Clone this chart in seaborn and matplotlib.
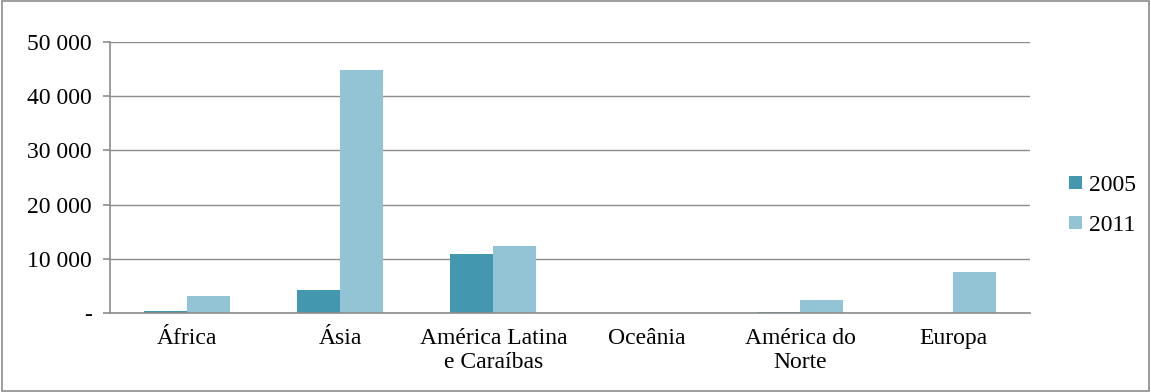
import pandas as pd
import seaborn as sns
import matplotlib.pyplot as plt
from matplotlib.ticker import FuncFormatter, FixedLocator

regions = ['África', 'Ásia', 'América Latina\ne Caraíbas', 'Oceânia',
           'América do\nNorte', 'Europa']
years = ['2005', '2011']
values_2005 = [300, 4300, 10900, 0, 150, 60]
values_2011 = [3100, 44800, 12300, 0, 2400, 7550]

df = pd.DataFrame({
    'region': regions * 2,
    'year': [years[0]] * len(regions) + [years[1]] * len(regions),
    'value': values_2005 + values_2011,
})

sns.set_style('white')
plt.rcParams['font.family'] = ['Liberation Serif', 'DejaVu Serif']
plt.rcParams['text.color'] = 'black'
plt.rcParams['xtick.labelcolor'] = 'black'
plt.rcParams['ytick.labelcolor'] = 'black'
fs = 17

fig = plt.figure(figsize=(11.51, 3.92), dpi=100)
ax = fig.add_axes([0.0956, 0.2015, 0.7994, 0.6915])

sns.barplot(data=df, x='region', y='value', hue='year', width=0.56,
            palette=['#4397AF', '#93C4D6'], saturation=1, linewidth=0, ax=ax)

ax.set_ylim(0, 50000)
ax.set_xlim(-0.5, len(regions) - 0.5)
ax.set_yticks(range(0, 50001, 10000))
ax.yaxis.set_major_formatter(FuncFormatter(
    lambda v, p: '-' if v == 0 else f'{int(v):,}'.replace(',', ' ')))
ax.grid(axis='y', color='#8c8c8c', linewidth=1)
ax.set_axisbelow(True)
ax.set_xlabel('')
ax.set_ylabel('')

for s in ['top', 'right']:
    ax.spines[s].set_visible(False)
for s in ['left', 'bottom']:
    ax.spines[s].set_color('#8c8c8c')
    ax.spines[s].set_linewidth(1.2)

ax.tick_params(axis='x', which='major', length=0, labelsize=fs, pad=11, labelcolor='black')
ax.xaxis.set_minor_locator(FixedLocator([i - 0.5 for i in range(len(regions) + 1)]))
ax.tick_params(axis='x', which='minor', length=5, color='#8c8c8c', width=1.2)
ax.tick_params(axis='y', length=5, color='#8c8c8c', width=1.2, labelsize=fs, pad=8,
               left=True, labelcolor='black')

leg = ax.legend(loc='center left', bbox_to_anchor=(0.929, 0.476),
                bbox_transform=fig.transFigure, frameon=False,
                fontsize=fs, handlelength=0.52, handleheight=0.52,
                handletextpad=0.3, labelspacing=0.8, borderpad=0, borderaxespad=0)
for t in leg.get_texts():
    t.set_color('black')

fig.patches.append(plt.Rectangle((0.002, 0.003), 0.996, 0.994, transform=fig.transFigure,
                                 fill=False, edgecolor='#8c8c8c', linewidth=1.2))

plt.savefig('out.png', dpi=100)
plt.close()
